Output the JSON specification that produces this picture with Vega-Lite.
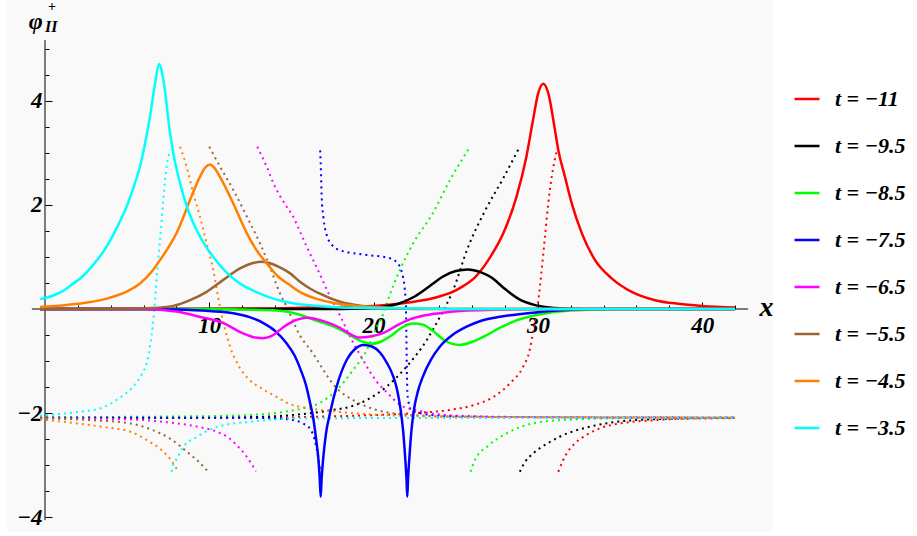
{
"$schema": "https://vega.github.io/schema/vega-lite/v6.json",
"width": 766, "height": 532,
"autosize": {"type": "none"},
"padding": {"left": 7, "top": 0, "right": 144, "bottom": 4},
"background": "white",
"config": {"view": {"fill": "#f9f9f9", "stroke": null}, "axis": {"labelOverlap": false, "labelBound": false, "labelFlush": false}},
"datasets": {
"solid": [
{"t":"−11","x":-0.3,"y":0},{"t":"−11","x":10,"y":0.005},{"t":"−11","x":14,"y":0.01},{"t":"−11","x":17,"y":0.03},{"t":"−11","x":20,"y":0.06},{"t":"−11","x":22,"y":0.12},{"t":"−11","x":24,"y":0.24},{"t":"−11","x":25,"y":0.36},{"t":"−11","x":25.5,"y":0.45},{"t":"−11","x":26.2,"y":0.62},{"t":"−11","x":27,"y":0.95},{"t":"−11","x":27.9,"y":1.46},{"t":"−11","x":28.7,"y":2.16},{"t":"−11","x":29.3,"y":2.93},{"t":"−11","x":29.7,"y":3.63},{"t":"−11","x":30.02,"y":4.15},{"t":"−11","x":30.33,"y":4.33},{"t":"−11","x":30.63,"y":4.15},{"t":"−11","x":31.04,"y":3.44},{"t":"−11","x":31.24,"y":3.06},{"t":"−11","x":31.65,"y":2.54},{"t":"−11","x":32.06,"y":2.03},{"t":"−11","x":32.67,"y":1.46},{"t":"−11","x":33.48,"y":0.94},{"t":"−11","x":34.49,"y":0.59},{"t":"−11","x":35.71,"y":0.33},{"t":"−11","x":37.13,"y":0.17},{"t":"−11","x":38.55,"y":0.1},{"t":"−11","x":39.97,"y":0.06},{"t":"−11","x":42,"y":0.03},
{"t":"−9.5","x":-0.3,"y":0},{"t":"−9.5","x":18,"y":0},{"t":"−9.5","x":19,"y":0.01},{"t":"−9.5","x":20.5,"y":0.04},{"t":"−9.5","x":21.5,"y":0.1},{"t":"−9.5","x":22.5,"y":0.24},{"t":"−9.5","x":23.5,"y":0.46},{"t":"−9.5","x":24.2,"y":0.62},{"t":"−9.5","x":25,"y":0.73},{"t":"−9.5","x":25.75,"y":0.76},{"t":"−9.5","x":26.5,"y":0.71},{"t":"−9.5","x":27.2,"y":0.6},{"t":"−9.5","x":27.9,"y":0.41},{"t":"−9.5","x":28.9,"y":0.18},{"t":"−9.5","x":29.9,"y":0.07},{"t":"−9.5","x":31,"y":0.02},{"t":"−9.5","x":33,"y":0},{"t":"−9.5","x":42,"y":0},
{"t":"−8.5","x":-0.3,"y":0},{"t":"−8.5","x":10,"y":0},{"t":"−8.5","x":12,"y":-0.01},{"t":"−8.5","x":14.1,"y":-0.03},{"t":"−8.5","x":15.5,"y":-0.11},{"t":"−8.5","x":16.5,"y":-0.22},{"t":"−8.5","x":17.5,"y":-0.33},{"t":"−8.5","x":18.3,"y":-0.45},{"t":"−8.5","x":19,"y":-0.58},{"t":"−8.5","x":19.9,"y":-0.67},{"t":"−8.5","x":20.5,"y":-0.62},{"t":"−8.5","x":21,"y":-0.53},{"t":"−8.5","x":21.7,"y":-0.36},{"t":"−8.5","x":22.4,"y":-0.28},{"t":"−8.5","x":23,"y":-0.3},{"t":"−8.5","x":23.6,"y":-0.42},{"t":"−8.5","x":24.3,"y":-0.6},{"t":"−8.5","x":25.26,"y":-0.69},{"t":"−8.5","x":26.1,"y":-0.62},{"t":"−8.5","x":26.9,"y":-0.5},{"t":"−8.5","x":27.7,"y":-0.36},{"t":"−8.5","x":28.7,"y":-0.22},{"t":"−8.5","x":29.7,"y":-0.13},{"t":"−8.5","x":30.7,"y":-0.07},{"t":"−8.5","x":32,"y":-0.03},{"t":"−8.5","x":35,"y":0},{"t":"−8.5","x":42,"y":0},
{"t":"−7.5","x":-0.3,"y":0},{"t":"−7.5","x":6,"y":0},{"t":"−7.5","x":8,"y":-0.01},{"t":"−7.5","x":10,"y":-0.04},{"t":"−7.5","x":11.46,"y":-0.08},{"t":"−7.5","x":12.5,"y":-0.16},{"t":"−7.5","x":13.29,"y":-0.27},{"t":"−7.5","x":14,"y":-0.42},{"t":"−7.5","x":14.7,"y":-0.66},{"t":"−7.5","x":15.2,"y":-0.9},{"t":"−7.5","x":15.6,"y":-1.2},{"t":"−7.5","x":15.9,"y":-1.48},{"t":"−7.5","x":16.13,"y":-1.8},{"t":"−7.5","x":16.33,"y":-2.1},{"t":"−7.5","x":16.5,"y":-2.5},{"t":"−7.5","x":16.63,"y":-2.85},{"t":"−7.5","x":16.72,"y":-3.25},{"t":"−7.5","x":16.78,"y":-3.61},{"t":"−7.5","x":16.84,"y":-3.25},{"t":"−7.5","x":16.94,"y":-2.85},{"t":"−7.5","x":17.1,"y":-2.4},{"t":"−7.5","x":17.35,"y":-2.0},{"t":"−7.5","x":17.75,"y":-1.49},{"t":"−7.5","x":18.36,"y":-0.98},{"t":"−7.5","x":18.9,"y":-0.76},{"t":"−7.5","x":19.37,"y":-0.69},{"t":"−7.5","x":19.9,"y":-0.72},{"t":"−7.5","x":20.4,"y":-0.84},{"t":"−7.5","x":20.8,"y":-1.03},{"t":"−7.5","x":21.2,"y":-1.3},{"t":"−7.5","x":21.45,"y":-1.58},{"t":"−7.5","x":21.65,"y":-1.95},{"t":"−7.5","x":21.8,"y":-2.35},{"t":"−7.5","x":21.92,"y":-2.85},{"t":"−7.5","x":22.0,"y":-3.25},{"t":"−7.5","x":22.05,"y":-3.61},{"t":"−7.5","x":22.1,"y":-3.25},{"t":"−7.5","x":22.18,"y":-2.85},{"t":"−7.5","x":22.3,"y":-2.35},{"t":"−7.5","x":22.45,"y":-1.95},{"t":"−7.5","x":22.7,"y":-1.58},{"t":"−7.5","x":23.0,"y":-1.3},{"t":"−7.5","x":23.5,"y":-0.97},{"t":"−7.5","x":24.04,"y":-0.72},{"t":"−7.5","x":24.8,"y":-0.5},{"t":"−7.5","x":25.66,"y":-0.34},{"t":"−7.5","x":26.6,"y":-0.22},{"t":"−7.5","x":27.7,"y":-0.15},{"t":"−7.5","x":29.7,"y":-0.07},{"t":"−7.5","x":31.7,"y":-0.02},{"t":"−7.5","x":34,"y":0},{"t":"−7.5","x":42,"y":0},
{"t":"−6.5","x":-0.3,"y":0},{"t":"−6.5","x":6,"y":0},{"t":"−6.5","x":8,"y":-0.05},{"t":"−6.5","x":9.4,"y":-0.15},{"t":"−6.5","x":10.85,"y":-0.27},{"t":"−6.5","x":12.07,"y":-0.47},{"t":"−6.5","x":12.8,"y":-0.55},{"t":"−6.5","x":13.29,"y":-0.56},{"t":"−6.5","x":13.9,"y":-0.5},{"t":"−6.5","x":14.5,"y":-0.35},{"t":"−6.5","x":14.9,"y":-0.27},{"t":"−6.5","x":15.5,"y":-0.19},{"t":"−6.5","x":16,"y":-0.17},{"t":"−6.5","x":16.7,"y":-0.21},{"t":"−6.5","x":17.3,"y":-0.27},{"t":"−6.5","x":17.95,"y":-0.36},{"t":"−6.5","x":18.5,"y":-0.47},{"t":"−6.5","x":19.1,"y":-0.55},{"t":"−6.5","x":19.8,"y":-0.53},{"t":"−6.5","x":20.6,"y":-0.46},{"t":"−6.5","x":21.4,"y":-0.32},{"t":"−6.5","x":22.2,"y":-0.2},{"t":"−6.5","x":23,"y":-0.13},{"t":"−6.5","x":24,"y":-0.08},{"t":"−6.5","x":25.7,"y":-0.03},{"t":"−6.5","x":28,"y":-0.01},{"t":"−6.5","x":30,"y":0},{"t":"−6.5","x":42,"y":0},
{"t":"−5.5","x":-0.3,"y":0},{"t":"−5.5","x":5,"y":0.01},{"t":"−5.5","x":6.5,"y":0.02},{"t":"−5.5","x":7.8,"y":0.06},{"t":"−5.5","x":8.83,"y":0.17},{"t":"−5.5","x":9.84,"y":0.33},{"t":"−5.5","x":10.85,"y":0.56},{"t":"−5.5","x":11.87,"y":0.78},{"t":"−5.5","x":12.6,"y":0.88},{"t":"−5.5","x":13.19,"y":0.91},{"t":"−5.5","x":13.8,"y":0.87},{"t":"−5.5","x":14.3,"y":0.8},{"t":"−5.5","x":14.9,"y":0.69},{"t":"−5.5","x":15.5,"y":0.53},{"t":"−5.5","x":16.1,"y":0.4},{"t":"−5.5","x":16.7,"y":0.3},{"t":"−5.5","x":17.95,"y":0.14},{"t":"−5.5","x":19.6,"y":0.05},{"t":"−5.5","x":21,"y":0.02},{"t":"−5.5","x":23,"y":0},{"t":"−5.5","x":42,"y":0},
{"t":"−4.5","x":-0.3,"y":0.04},{"t":"−4.5","x":2,"y":0.1},{"t":"−4.5","x":3.75,"y":0.2},{"t":"−4.5","x":5,"y":0.34},{"t":"−4.5","x":5.78,"y":0.49},{"t":"−4.5","x":6.5,"y":0.72},{"t":"−4.5","x":7,"y":0.94},{"t":"−4.5","x":7.5,"y":1.18},{"t":"−4.5","x":8.01,"y":1.46},{"t":"−4.5","x":8.4,"y":1.75},{"t":"−4.5","x":8.83,"y":2.1},{"t":"−4.5","x":9.43,"y":2.54},{"t":"−4.5","x":9.75,"y":2.72},{"t":"−4.5","x":10.04,"y":2.78},{"t":"−4.5","x":10.3,"y":2.72},{"t":"−4.5","x":10.65,"y":2.54},{"t":"−4.5","x":11.46,"y":2.03},{"t":"−4.5","x":12.28,"y":1.46},{"t":"−4.5","x":12.9,"y":1.12},{"t":"−4.5","x":13.49,"y":0.88},{"t":"−4.5","x":14.2,"y":0.62},{"t":"−4.5","x":14.9,"y":0.46},{"t":"−4.5","x":15.5,"y":0.33},{"t":"−4.5","x":16.5,"y":0.2},{"t":"−4.5","x":17.5,"y":0.12},{"t":"−4.5","x":19,"y":0.06},{"t":"−4.5","x":20.5,"y":0.03},{"t":"−4.5","x":23,"y":0.01},{"t":"−4.5","x":26,"y":0},{"t":"−4.5","x":42,"y":0},
{"t":"−3.5","x":-0.3,"y":0.19},{"t":"−3.5","x":0.5,"y":0.26},{"t":"−3.5","x":1.1,"y":0.35},{"t":"−3.5","x":1.72,"y":0.49},{"t":"−3.5","x":2.3,"y":0.63},{"t":"−3.5","x":2.8,"y":0.8},{"t":"−3.5","x":3.75,"y":1.2},{"t":"−3.5","x":4.4,"y":1.58},{"t":"−3.5","x":4.97,"y":1.97},{"t":"−3.5","x":5.4,"y":2.35},{"t":"−3.5","x":5.78,"y":2.74},{"t":"−3.5","x":6.1,"y":3.2},{"t":"−3.5","x":6.39,"y":3.7},{"t":"−3.5","x":6.7,"y":4.34},{"t":"−3.5","x":6.94,"y":4.71},{"t":"−3.5","x":7.24,"y":4.34},{"t":"−3.5","x":7.61,"y":3.38},{"t":"−3.5","x":7.9,"y":2.85},{"t":"−3.5","x":8.22,"y":2.42},{"t":"−3.5","x":8.6,"y":2.0},{"t":"−3.5","x":9.03,"y":1.65},{"t":"−3.5","x":9.6,"y":1.3},{"t":"−3.5","x":10.24,"y":1.0},{"t":"−3.5","x":11,"y":0.72},{"t":"−3.5","x":11.87,"y":0.49},{"t":"−3.5","x":12.9,"y":0.32},{"t":"−3.5","x":13.9,"y":0.2},{"t":"−3.5","x":14.9,"y":0.12},{"t":"−3.5","x":16.1,"y":0.07},{"t":"−3.5","x":18,"y":0.03},{"t":"−3.5","x":20,"y":0.02},{"t":"−3.5","x":23,"y":0.01},{"t":"−3.5","x":26,"y":0},{"t":"−3.5","x":42,"y":0}
],
"dotted": [
{"t":"−11","s":"R1","x":-0.3,"y":-2.09},{"t":"−11","s":"R1","x":10,"y":-2.09},{"t":"−11","s":"R1","x":15,"y":-2.08},{"t":"−11","s":"R1","x":18,"y":-2.06},{"t":"−11","s":"R1","x":20,"y":-2.04},{"t":"−11","s":"R1","x":22.6,"y":-2.0},{"t":"−11","s":"R1","x":24.65,"y":-1.94},{"t":"−11","s":"R1","x":26.07,"y":-1.85},{"t":"−11","s":"R1","x":27.3,"y":-1.69},{"t":"−11","s":"R1","x":28.3,"y":-1.43},{"t":"−11","s":"R1","x":29.1,"y":-1.11},{"t":"−11","s":"R1","x":29.5,"y":-0.79},{"t":"−11","s":"R1","x":29.7,"y":-0.45},{"t":"−11","s":"R1","x":29.9,"y":-0.1},{"t":"−11","s":"R1","x":30.03,"y":0.17},{"t":"−11","s":"R1","x":30.23,"y":0.75},{"t":"−11","s":"R1","x":30.43,"y":1.39},{"t":"−11","s":"R1","x":30.63,"y":2.03},{"t":"−11","s":"R1","x":30.84,"y":2.54},{"t":"−11","s":"R1","x":31.18,"y":3.08},
{"t":"−11","s":"R2","x":31.24,"y":-3.13},{"t":"−11","s":"R2","x":31.5,"y":-2.93},{"t":"−11","s":"R2","x":31.75,"y":-2.78},{"t":"−11","s":"R2","x":32.2,"y":-2.6},{"t":"−11","s":"R2","x":32.76,"y":-2.46},{"t":"−11","s":"R2","x":33.8,"y":-2.29},{"t":"−11","s":"R2","x":35,"y":-2.2},{"t":"−11","s":"R2","x":37,"y":-2.14},{"t":"−11","s":"R2","x":39,"y":-2.11},{"t":"−11","s":"R2","x":42,"y":-2.1},
{"t":"−9.5","s":"K1","x":-0.3,"y":-2.09},{"t":"−9.5","s":"K1","x":12,"y":-2.08},{"t":"−9.5","s":"K1","x":15,"y":-2.04},{"t":"−9.5","s":"K1","x":17.55,"y":-1.94},{"t":"−9.5","s":"K1","x":18.56,"y":-1.88},{"t":"−9.5","s":"K1","x":19.58,"y":-1.75},{"t":"−9.5","s":"K1","x":20.8,"y":-1.49},{"t":"−9.5","s":"K1","x":22,"y":-1.11},{"t":"−9.5","s":"K1","x":23.23,"y":-0.6},{"t":"−9.5","s":"K1","x":24.04,"y":-0.15},{"t":"−9.5","s":"K1","x":24.85,"y":0.37},{"t":"−9.5","s":"K1","x":25.7,"y":1.15},{"t":"−9.5","s":"K1","x":26.8,"y":1.9},{"t":"−9.5","s":"K1","x":27.9,"y":2.52},{"t":"−9.5","s":"K1","x":28.81,"y":3.07},
{"t":"−9.5","s":"K2","x":28.9,"y":-3.13},{"t":"−9.5","s":"K2","x":29.2,"y":-2.95},{"t":"−9.5","s":"K2","x":29.7,"y":-2.78},{"t":"−9.5","s":"K2","x":30.5,"y":-2.6},{"t":"−9.5","s":"K2","x":31.3,"y":-2.46},{"t":"−9.5","s":"K2","x":33.2,"y":-2.26},{"t":"−9.5","s":"K2","x":34.8,"y":-2.17},{"t":"−9.5","s":"K2","x":37,"y":-2.12},{"t":"−9.5","s":"K2","x":42,"y":-2.09},
{"t":"−8.5","s":"G1","x":-0.3,"y":-2.08},{"t":"−8.5","s":"G1","x":10,"y":-2.06},{"t":"−8.5","s":"G1","x":13,"y":-2.03},{"t":"−8.5","s":"G1","x":14.5,"y":-1.98},{"t":"−8.5","s":"G1","x":15.7,"y":-1.91},{"t":"−8.5","s":"G1","x":16.7,"y":-1.81},{"t":"−8.5","s":"G1","x":17.75,"y":-1.56},{"t":"−8.5","s":"G1","x":18.76,"y":-1.17},{"t":"−8.5","s":"G1","x":19.58,"y":-0.79},{"t":"−8.5","s":"G1","x":20.2,"y":-0.34},{"t":"−8.5","s":"G1","x":20.6,"y":-0.08},{"t":"−8.5","s":"G1","x":20.8,"y":0.11},{"t":"−8.5","s":"G1","x":21.6,"y":0.75},{"t":"−8.5","s":"G1","x":22.4,"y":1.26},{"t":"−8.5","s":"G1","x":23.6,"y":1.84},{"t":"−8.5","s":"G1","x":24.65,"y":2.48},{"t":"−8.5","s":"G1","x":25.87,"y":3.12},
{"t":"−8.5","s":"G2","x":25.9,"y":-3.13},{"t":"−8.5","s":"G2","x":26.2,"y":-2.88},{"t":"−8.5","s":"G2","x":26.9,"y":-2.65},{"t":"−8.5","s":"G2","x":28.1,"y":-2.39},{"t":"−8.5","s":"G2","x":29.7,"y":-2.2},{"t":"−8.5","s":"G2","x":31.75,"y":-2.13},{"t":"−8.5","s":"G2","x":35,"y":-2.1},{"t":"−8.5","s":"G2","x":42,"y":-2.09},
{"t":"−7.5","s":"B1","x":-0.3,"y":-2.09},{"t":"−7.5","s":"B1","x":10,"y":-2.09},{"t":"−7.5","s":"B1","x":14,"y":-2.1},{"t":"−7.5","s":"B1","x":15,"y":-2.13},{"t":"−7.5","s":"B1","x":15.7,"y":-2.2},{"t":"−7.5","s":"B1","x":16.13,"y":-2.3},{"t":"−7.5","s":"B1","x":16.4,"y":-2.5},{"t":"−7.5","s":"B1","x":16.6,"y":-2.8},{"t":"−7.5","s":"B1","x":16.72,"y":-3.05},{"t":"−7.5","s":"B1","x":16.77,"y":-3.14},
{"t":"−7.5","s":"B2","x":16.75,"y":3.05},{"t":"−7.5","s":"B2","x":16.8,"y":2.6},{"t":"−7.5","s":"B2","x":16.84,"y":2.16},{"t":"−7.5","s":"B2","x":16.95,"y":1.75},{"t":"−7.5","s":"B2","x":17.15,"y":1.42},{"t":"−7.5","s":"B2","x":17.5,"y":1.22},{"t":"−7.5","s":"B2","x":17.95,"y":1.13},{"t":"−7.5","s":"B2","x":19.58,"y":1.04},{"t":"−7.5","s":"B2","x":20.8,"y":0.99},{"t":"−7.5","s":"B2","x":21.3,"y":0.93},{"t":"−7.5","s":"B2","x":21.6,"y":0.81},{"t":"−7.5","s":"B2","x":21.8,"y":0.6},{"t":"−7.5","s":"B2","x":21.9,"y":0.37},{"t":"−7.5","s":"B2","x":21.97,"y":0.0},{"t":"−7.5","s":"B2","x":22.0,"y":-0.6},{"t":"−7.5","s":"B2","x":22.03,"y":-1.3},{"t":"−7.5","s":"B2","x":22.08,"y":-1.7},{"t":"−7.5","s":"B2","x":22.3,"y":-1.95},{"t":"−7.5","s":"B2","x":22.8,"y":-2.0},{"t":"−7.5","s":"B2","x":24,"y":-2.05},{"t":"−7.5","s":"B2","x":28,"y":-2.08},{"t":"−7.5","s":"B2","x":42,"y":-2.09},
{"t":"−6.5","s":"M1","x":-0.3,"y":-2.1},{"t":"−6.5","s":"M1","x":5,"y":-2.12},{"t":"−6.5","s":"M1","x":7.2,"y":-2.17},{"t":"−6.5","s":"M1","x":9.23,"y":-2.26},{"t":"−6.5","s":"M1","x":10.45,"y":-2.36},{"t":"−6.5","s":"M1","x":11.2,"y":-2.48},{"t":"−6.5","s":"M1","x":11.67,"y":-2.62},{"t":"−6.5","s":"M1","x":12.3,"y":-2.85},{"t":"−6.5","s":"M1","x":12.84,"y":-3.12},
{"t":"−6.5","s":"M2","x":12.92,"y":3.12},{"t":"−6.5","s":"M2","x":13.49,"y":2.74},{"t":"−6.5","s":"M2","x":13.9,"y":2.42},{"t":"−6.5","s":"M2","x":14.7,"y":1.97},{"t":"−6.5","s":"M2","x":15.1,"y":1.78},{"t":"−6.5","s":"M2","x":15.5,"y":1.5},{"t":"−6.5","s":"M2","x":16,"y":1.15},{"t":"−6.5","s":"M2","x":16.7,"y":0.69},{"t":"−6.5","s":"M2","x":17.3,"y":0.27},{"t":"−6.5","s":"M2","x":17.95,"y":-0.12},{"t":"−6.5","s":"M2","x":18.6,"y":-0.55},{"t":"−6.5","s":"M2","x":19.3,"y":-0.95},{"t":"−6.5","s":"M2","x":20.2,"y":-1.4},{"t":"−6.5","s":"M2","x":20.8,"y":-1.6},{"t":"−6.5","s":"M2","x":21.6,"y":-1.84},{"t":"−6.5","s":"M2","x":22.8,"y":-1.96},{"t":"−6.5","s":"M2","x":25,"y":-2.05},{"t":"−6.5","s":"M2","x":30,"y":-2.08},{"t":"−6.5","s":"M2","x":42,"y":-2.09},
{"t":"−5.5","s":"N1","x":-0.3,"y":-2.1},{"t":"−5.5","s":"N1","x":3,"y":-2.14},{"t":"−5.5","s":"N1","x":5.2,"y":-2.2},{"t":"−5.5","s":"N1","x":6.4,"y":-2.31},{"t":"−5.5","s":"N1","x":7.6,"y":-2.49},{"t":"−5.5","s":"N1","x":8.62,"y":-2.74},{"t":"−5.5","s":"N1","x":9.4,"y":-2.95},{"t":"−5.5","s":"N1","x":9.9,"y":-3.12},
{"t":"−5.5","s":"N2","x":10.0,"y":3.12},{"t":"−5.5","s":"N2","x":10.65,"y":2.74},{"t":"−5.5","s":"N2","x":11.46,"y":2.29},{"t":"−5.5","s":"N2","x":12.28,"y":1.78},{"t":"−5.5","s":"N2","x":13.09,"y":1.26},{"t":"−5.5","s":"N2","x":13.69,"y":0.81},{"t":"−5.5","s":"N2","x":14.3,"y":0.3},{"t":"−5.5","s":"N2","x":14.7,"y":0.05},{"t":"−5.5","s":"N2","x":15.5,"y":-0.5},{"t":"−5.5","s":"N2","x":16.3,"y":-0.85},{"t":"−5.5","s":"N2","x":16.7,"y":-1.05},{"t":"−5.5","s":"N2","x":17.55,"y":-1.45},{"t":"−5.5","s":"N2","x":17.95,"y":-1.58},{"t":"−5.5","s":"N2","x":18.8,"y":-1.76},{"t":"−5.5","s":"N2","x":19.6,"y":-1.88},{"t":"−5.5","s":"N2","x":21.6,"y":-2.02},{"t":"−5.5","s":"N2","x":25,"y":-2.07},{"t":"−5.5","s":"N2","x":42,"y":-2.09},
{"t":"−4.5","s":"O1","x":-0.3,"y":-2.12},{"t":"−4.5","s":"O1","x":3.35,"y":-2.26},{"t":"−4.5","s":"O1","x":5.2,"y":-2.36},{"t":"−4.5","s":"O1","x":6.19,"y":-2.52},{"t":"−4.5","s":"O1","x":7.2,"y":-2.74},{"t":"−4.5","s":"O1","x":7.7,"y":-2.92},{"t":"−4.5","s":"O1","x":8.1,"y":-3.12},
{"t":"−4.5","s":"O2","x":8.22,"y":3.12},{"t":"−4.5","s":"O2","x":8.62,"y":2.74},{"t":"−4.5","s":"O2","x":9.03,"y":2.22},{"t":"−4.5","s":"O2","x":9.43,"y":1.78},{"t":"−4.5","s":"O2","x":9.84,"y":1.26},{"t":"−4.5","s":"O2","x":10.24,"y":0.75},{"t":"−4.5","s":"O2","x":10.65,"y":0.04},{"t":"−4.5","s":"O2","x":11.26,"y":-0.72},{"t":"−4.5","s":"O2","x":11.8,"y":-1.1},{"t":"−4.5","s":"O2","x":12.48,"y":-1.37},{"t":"−4.5","s":"O2","x":13.3,"y":-1.55},{"t":"−4.5","s":"O2","x":14.1,"y":-1.69},{"t":"−4.5","s":"O2","x":14.7,"y":-1.8},{"t":"−4.5","s":"O2","x":16.1,"y":-1.91},{"t":"−4.5","s":"O2","x":18,"y":-1.98},{"t":"−4.5","s":"O2","x":20,"y":-2.03},{"t":"−4.5","s":"O2","x":25,"y":-2.07},{"t":"−4.5","s":"O2","x":42,"y":-2.09},
{"t":"−3.5","s":"C1","x":-0.3,"y":-2.05},{"t":"−3.5","s":"C1","x":2,"y":-1.98},{"t":"−3.5","s":"C1","x":3.35,"y":-1.91},{"t":"−3.5","s":"C1","x":4.5,"y":-1.72},{"t":"−3.5","s":"C1","x":5.37,"y":-1.49},{"t":"−3.5","s":"C1","x":5.9,"y":-1.25},{"t":"−3.5","s":"C1","x":6.19,"y":-1.04},{"t":"−3.5","s":"C1","x":6.4,"y":-0.7},{"t":"−3.5","s":"C1","x":6.55,"y":-0.35},{"t":"−3.5","s":"C1","x":6.7,"y":0.17},{"t":"−3.5","s":"C1","x":6.85,"y":0.81},{"t":"−3.5","s":"C1","x":7.04,"y":1.46},{"t":"−3.5","s":"C1","x":7.2,"y":2.1},{"t":"−3.5","s":"C1","x":7.4,"y":2.74},{"t":"−3.5","s":"C1","x":7.65,"y":3.06},
{"t":"−3.5","s":"C2","x":7.7,"y":-3.13},{"t":"−3.5","s":"C2","x":7.8,"y":-3.0},{"t":"−3.5","s":"C2","x":8.0,"y":-2.89},{"t":"−3.5","s":"C2","x":8.42,"y":-2.65},{"t":"−3.5","s":"C2","x":9.23,"y":-2.46},{"t":"−3.5","s":"C2","x":10.24,"y":-2.29},{"t":"−3.5","s":"C2","x":11.26,"y":-2.21},{"t":"−3.5","s":"C2","x":12.5,"y":-2.17},{"t":"−3.5","s":"C2","x":13.7,"y":-2.13},{"t":"−3.5","s":"C2","x":16,"y":-2.1},{"t":"−3.5","s":"C2","x":42,"y":-2.09}
]
},
"layer": [
{"data": {"values": [{}]}, "mark": {"type": "rule", "color": "black", "strokeWidth": 1},
 "encoding": {"x": {"datum": -0.8, "type": "quantitative", "scale": {"domain": [-2.313, 44.31], "nice": false, "zero": false}}, "x2": {"datum": 42.8}, "y": {"datum": 0, "type": "quantitative", "scale": {"domain": [-4.288, 5.942], "nice": false, "zero": false}}}},
{"data": {"values": [{}]}, "mark": {"type": "rule", "color": "black", "strokeWidth": 1},
 "encoding": {"x": {"datum": 0, "type": "quantitative", "scale": {"domain": [-2.313, 44.31], "nice": false, "zero": false}}, "y": {"datum": -4.06, "type": "quantitative", "scale": {"domain": [-4.288, 5.942], "nice": false, "zero": false}}, "y2": {"datum": 5.17}}},
{"data": {"name": "dotted"}, "mark": {"type": "line", "strokeWidth": 2, "strokeDash": [2, 4], "interpolate": "monotone"},
 "encoding": {
  "x": {"field": "x", "type": "quantitative", "scale": {"domain": [-2.313, 44.31], "nice": false, "zero": false}},
  "y": {"field": "y", "type": "quantitative", "scale": {"domain": [-4.288, 5.942], "nice": false, "zero": false}},
  "detail": {"field": "s"},
  "color": {"field": "t", "type": "nominal", "scale": {"domain": ["−11","−9.5","−8.5","−7.5","−6.5","−5.5","−4.5","−3.5"], "range": ["#ff0000","#000000","#00ff00","#0000ff","#ff00ff","#996633","#ff8000","#00ffff"]}}
 }},
{"data": {"name": "solid"}, "mark": {"type": "line", "strokeWidth": 2.5, "interpolate": "monotone"},
 "encoding": {
  "x": {"field": "x", "type": "quantitative", "scale": {"domain": [-2.313, 44.31], "nice": false, "zero": false},
   "axis": {"orient": "bottom", "offset": -223, "title": null, "domain": false, "grid": false, "tickCount": 200,
     "values": [2,4,6,8,10,12,14,16,18,20,22,24,26,28,30,32,34,36,38,40,42],
     "tickSize": {"condition": {"test": "datum.value % 10 === 0", "value": -7}, "value": -4},
     "tickColor": "black", "tickWidth": 1,
     "labelExpr": "datum.value % 10 === 0 ? toString(datum.value) : ''",
     "labelFont": "Liberation Serif", "labelFontSize": 23, "labelFontStyle": "italic", "labelFontWeight": "bold", "labelColor": "black",
     "labelPadding": 12, "labelOverlap": false, "labelFlush": false, "labelBound": false}},
  "y": {"field": "y", "type": "quantitative", "scale": {"domain": [-4.288, 5.942], "nice": false, "zero": false},
   "axis": {"orient": "left", "offset": -38, "title": null, "domain": false, "grid": false, "tickCount": 200,
     "values": [-4,-3.5,-3,-2.5,-2,-1.5,-1,-0.5,0.5,1,1.5,2,2.5,3,3.5,4,4.5,5],
     "tickSize": {"condition": {"test": "datum.value % 2 === 0", "value": -7}, "value": -4},
     "tickColor": "black", "tickWidth": 1,
     "labelExpr": "datum.value % 2 === 0 ? replace(toString(datum.value), '-', '−') : ''",
     "labelFont": "Liberation Serif", "labelFontSize": 23, "labelFontStyle": "italic", "labelFontWeight": "bold", "labelColor": "black",
     "labelPadding": 10, "labelOverlap": false, "labelFlush": false, "labelBound": false}},
  "color": {"field": "t", "type": "nominal", "scale": {"domain": ["−11","−9.5","−8.5","−7.5","−6.5","−5.5","−4.5","−3.5"], "range": ["#ff0000","#000000","#00ff00","#0000ff","#ff00ff","#996633","#ff8000","#00ffff"]},
   "legend": {"orient": "none", "legendX": 786, "legendY": 85, "title": null, "symbolType": "stroke", "symbolSize": 625, "symbolStrokeWidth": 2.5, "symbolDash": [1, 0],
     "labelFont": "Liberation Serif", "labelFontSize": 22, "labelFontStyle": "italic", "labelFontWeight": "bold", "labelColor": "black",
     "labelOffset": 14, "rowPadding": 22, "padding": 0, "labelExpr": "'t = ' + datum.label"}}
 }},
{"data": {"values": [{}]}, "mark": {"type": "text", "text": "φ", "font": "Liberation Serif", "fontSize": 24, "fontStyle": "italic", "fontWeight": "bold", "align": "center", "baseline": "middle", "color": "black"},
 "encoding": {"x": {"datum": -0.56, "type": "quantitative", "scale": {"domain": [-2.313, 44.31], "nice": false, "zero": false}}, "y": {"datum": 5.52, "type": "quantitative", "scale": {"domain": [-4.288, 5.942], "nice": false, "zero": false}}}},
{"data": {"values": [{}]}, "mark": {"type": "text", "text": "II", "font": "Liberation Serif", "fontSize": 16, "fontStyle": "italic", "fontWeight": "bold", "align": "center", "baseline": "middle", "color": "black"},
 "encoding": {"x": {"datum": 0.38, "type": "quantitative", "scale": {"domain": [-2.313, 44.31], "nice": false, "zero": false}}, "y": {"datum": 5.43, "type": "quantitative", "scale": {"domain": [-4.288, 5.942], "nice": false, "zero": false}}}},
{"data": {"values": [{}]}, "mark": {"type": "text", "text": "+", "font": "Liberation Serif", "fontSize": 14, "fontWeight": "bold", "align": "center", "baseline": "middle", "color": "black"},
 "encoding": {"x": {"datum": 0.43, "type": "quantitative", "scale": {"domain": [-2.313, 44.31], "nice": false, "zero": false}}, "y": {"datum": 5.8, "type": "quantitative", "scale": {"domain": [-4.288, 5.942], "nice": false, "zero": false}}}},
{"data": {"values": [{}]}, "mark": {"type": "text", "text": "x", "font": "Liberation Serif", "fontSize": 28, "fontStyle": "italic", "fontWeight": "bold", "align": "center", "baseline": "middle", "color": "black"},
 "encoding": {"x": {"datum": 43.91, "type": "quantitative", "scale": {"domain": [-2.313, 44.31], "nice": false, "zero": false}}, "y": {"datum": 0.02, "type": "quantitative", "scale": {"domain": [-4.288, 5.942], "nice": false, "zero": false}}}}
]
}
